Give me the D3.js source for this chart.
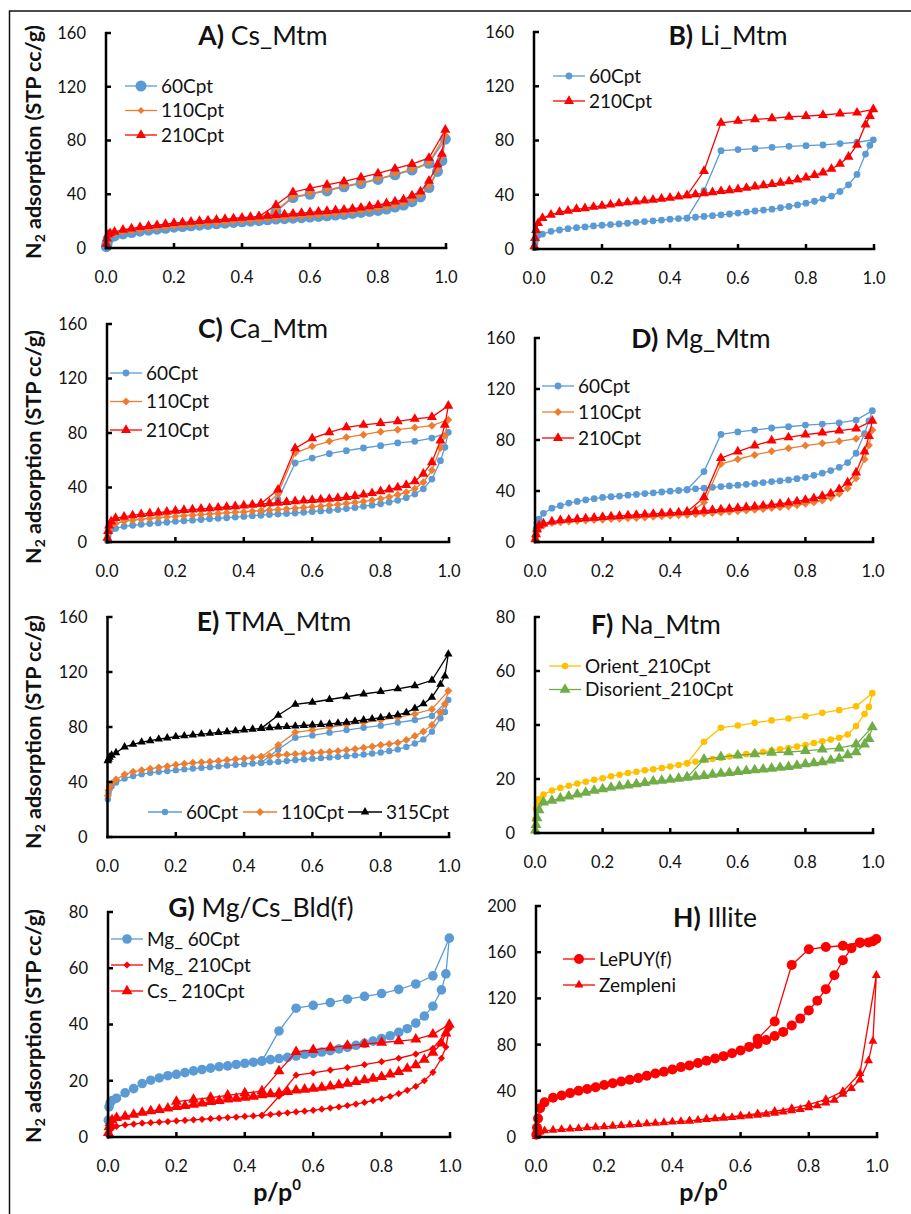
<!DOCTYPE html>
<html><head><meta charset="utf-8">
<script src="https://cdn.jsdelivr.net/npm/d3@7/dist/d3.min.js"></script>
<style>body{margin:0;background:#fff}svg{display:block;font-family:Lato,"Open Sans",sans-serif}</style>
</head><body>
<script>
// ---------- DATA ----------
// relative pressure grid (adsorption branch) and desorption branches
const pAds = [0.001,0.003,0.006,0.012,
  0.025,0.05,0.075,0.1,0.125, 0.15,0.175,0.2,0.225,0.25, 0.275,0.3,0.325,0.35,0.375,
  0.4,0.425,0.45,0.475,0.5, 0.525,0.55,0.575,0.6,0.625, 0.65,0.675,0.7,0.725,0.75,
  0.775,0.8,0.825,0.85,0.875, 0.9,0.925,0.95,0.975, 0.988,0.998];
const pDes = [0.95,0.9,0.85,0.8,0.75,0.7,0.65,0.6,0.55,0.5,0.45];
const pDesG = [0.95,0.9,0.85,0.8,0.75,0.7,0.65,0.6,0.55,0.5,0.45,0.4,0.35,0.3,0.25,0.2];
const pDesH = [0.95,0.9,0.85,0.8,0.75,0.7,0.65];
const xTickVals = [0,0.2,0.4,0.6,0.8,1.0];

// A) Cs_Mtm
const A60ads = [1,3,6,8, 9,10.5,11.5,12.5,13.3, 14,14.7,15.5,16,16.5, 17,17.5,18,18.5,19,
  19.5,20,20.5,21,21.5, 21.8,22.2,22.6,23,23.5, 24,24.5,25,25.7,26.5, 27.2,28,29,30.5,32,
  34.5,38,45,57, 65,81];
const A60des = [63,58,54.5,51,48,45.5,42.5,40,37.5,27,20.5];
const A110ads = [2,5,8,10, 10.5,11.5,12.5,13.3,14, 14.7,15.3,16,16.5,17, 17.5,18,18.5,19,19.5,
  20,20.5,21,21.5,22, 22.4,22.8,23.2,23.7,24.2, 24.7,25.3,25.9,26.6,27.4, 28.2,29,30,31.5,33,
  35.5,39,46,58, 68,84];
const A110des = [63.5,58.5,55,51.5,48.5,46,43,40.5,38,28,21];
const A210ads = [3,7,10,11, 12,13.5,14.5,15.5,16.3, 17,17.8,18.5,19,19.5, 20,20.5,21,21.5,22,
  22.5,23,23.5,24,24.5, 25,25.5,26,26.5,27, 27.5,28,28.5,29.2,30, 31,32,33.2,34.5,36,
  39,42,50,62, 70,88];
const A210des = [67,62.5,59,55.5,52.5,49.5,47,44.5,41.5,32,23.5];

// B) Li_Mtm
const B60ads = [1,4,7,10, 11,13,14,15,15.7, 16.3,17,17.5,18,18.5, 19,19.7,20.2,20.8,21.3,
  22,22.4,22.8,23.4,24, 24.6,25.2,25.8,26.5,27.2, 28,28.7,29.4,30.4,31.4, 32.5,33.8,35.2,37,39,
  42.4,47.3,55,70, 76.5,80.5];
const B60des = [78.7,77.7,76.7,76.2,75.7,75,74,73.3,72.5,43,22.8];
const B210ads = [2,8,14,19, 22.8,25.2,27.2,28.2,29.4, 30,31,31.8,32.7,33.6, 34.3,35,35.6,36.3,37,
  37.7,38.6,39.5,40.2,41, 41.8,42.6,43.3,44,45, 46,46.9,47.8,48.8,49.8, 51.2,52.7,54.5,56.4,59,
  62.7,68,76.7,91.7, 98,103];
const B210des = [100.5,99.8,98.8,98,97.5,96.3,95.6,94.4,93,57.5,39.5];

// C) Ca_Mtm
const C60ads = [1,4,7,9, 10,11.5,12.3,13,13.5, 14,14.5,15.2,15.6,16, 16.5,17,17.4,17.8,18.3,
  18.8,19.3,19.8,20.2,20.5, 20.9,21.3,21.8,22.3,22.8, 23.2,23.8,24.5,25.3,26.2, 27,28,29.2,30.6,32.5,
  35.2,39,46.2,59.7, 69.5,80.5];
const C60des = [76.3,73.9,72.7,70.7,69,67,64.8,61.6,58,31,19.8];
const C110ads = [2,6,9,12, 13.5,15.2,16,16.7,17.3, 17.8,18.3,18.8,19.3,19.7, 20.1,20.5,21,21.4,21.8,
  22.1,22.6,23,23.4,23.8, 24.3,24.8,25.3,25.8,26.3, 26.9,27.5,28.2,29,29.7, 30.7,31.8,33,34.7,36.5,
  39.1,43.8,52.6,69, 78,89.8];
const C110des = [85.4,84,82.4,81,78.8,76.8,73.9,70.2,65.3,35.5,23];
const C210ads = [3,8,12,15, 17.6,18.5,19.5,20.4,21, 21.6,22.2,22.9,23.4,23.8, 24.3,24.7,25.2,25.7,26.2,
  26.7,27.3,28,28.4,28.8, 29.3,29.8,30.3,30.8,31.2, 31.6,32.2,32.9,33.7,34.7, 35.8,37.2,38.5,40,41.8,
  44.5,50,58.5,74.4, 86,100];
const C210des = [91.7,90.3,88.6,87.3,85.9,84.2,80.5,76,68.7,38.4,28];

// D) Mg_Mtm
const D60ads = [4,10,15,18, 22.5,26.5,28.5,30.5,31.8, 33,34,35,35.5,36, 36.7,37.3,38,38.6,39.2,
  39.9,40.4,41,41.7,42.3, 42.9,43.5,44,44.6,45.2, 45.9,46.6,47.4,48,48.7, 49.7,50.8,52.3,54,56,
  58.6,62.3,69.6,85, 95,103];
const D60des = [95.6,93.5,92.5,91.7,90.4,89.4,87.8,86.3,84.4,55.2,41];
const D110ads = [2,5,8,11, 13,14.9,15.5,16,16.5, 16.9,17.2,17.5,18,18.3, 18.6,18.8,19.3,19.8,20.2,
  20.6,21,21.4,21.8,22.3, 22.7,23.2,23.7,24.2,24.7, 25.3,25.9,26.6,27.2,27.9, 28.9,30,31.2,32.6,34.7,
  37.8,42.2,50,64.9, 75.8,87.8];
const D110des = [81,79,77.4,75.6,73.5,71.1,68.3,64.9,61.2,31,21.4];
const D210ads = [2,6,10,13, 14.5,16,17,17.5,18, 18.5,19,19.5,20,20.4, 20.8,21.2,21.6,22,22.4,
  22.8,23.2,23.6,24,24.5, 25,25.5,26,26.6,27.2, 27.8,28.5,29.2,30,30.8, 31.8,33,34.3,36,38,
  41.4,46.6,54.5,70.9, 83,95];
const D210des = [89,87.3,85.7,84.2,82,79.5,75.6,70.9,65.7,35,23.6];

// E) TMA_Mtm
const E60ads = [27.5,32,35,37, 39.6,42.5,44.3,45.7,46.7, 47.4,48,48.6,49.2,49.8, 50.3,50.8,51.4,52,52.5,
  53,53.5,54,54.4,54.7, 55.3,56,56.5,57,57.4, 57.9,58.3,58.8,59.4,60, 60.7,61.5,62.5,63.7,65.5,
  68,71,76.6,86.3, 91,99.7];
const E60des = [88,85.1,83.2,81,79.5,77.8,75.9,73.9,72.2,63.7,54];
const E110ads = [30,34,37,39, 41.8,45.5,47.4,48.6,49.6, 50.6,51.5,52.5,53.2,54, 54.3,54.7,55.3,56,56.5,
  57.1,57.7,58.4,59,59.6, 60,60.3,60.8,61.3,61.6, 62,62.6,63.2,64,64.9, 65.9,66.9,67.7,68.6,70.5,
  73.4,76.8,81.5,90.5, 96.8,106.3];
const E110des = [92.9,89.5,87,85.1,83.2,81.7,79.8,77.8,76.1,66.9,58.4];
const E315ads = [55.5,56.5,58,59.5, 61.3,65.5,67.4,69,70, 71.2,72,73,73.6,74.2, 74.8,75.4,76,76.6,77.2,
  77.8,78.4,79,79.5,80, 80.3,80.7,81.1,81.5,81.8, 82.2,82.8,83.4,84.2,85.1, 85.9,86.8,87.7,88.8,90.5,
  93.6,96.8,101.6,111, 117,133];
const E315des = [114,110,107.7,105.8,104,102,100,98,96.5,88.5,79];

// F) Na_Mtm
const FOriads = [5,9,11,12.6, 14.2,15.7,16.7,17.5,18.3, 19,19.7,20.3,21,21.6, 22.2,22.7,23.2,23.6,24.1,
  24.6,25.2,25.8,26.4,27, 27.4,27.8,28.3,28.8,29.2, 29.5,30,30.5,31,31.5, 32,32.6,33.3,34,34.6,
  35.3,36.5,39.6,44.1, 46.7,51.8];
const FOrides = [46.9,45.5,44.5,43.2,42.4,41.7,40.8,39.8,39,33.8,25.8];
const FDisads = [1,3,5.5,8.5, 11.4,12,12.8,13.6,14.3, 15,15.7,16.3,16.8,17.3, 17.7,18.1,18.6,19.1,19.4,
  19.8,20.2,20.6,20.9,21.2, 21.6,22,22.3,22.7,23, 23.3,23.6,23.9,24.2,24.5, 25,25.5,25.9,26.3,26.9,
  27.6,28.9,30,32.8, 34.9,39.2];
const FDisdes = [32.8,31.4,31,30.4,30,29.8,29.2,28.8,28.2,27.3,20.6];

// G) Mg/Cs_Bld(f)
const GMg60ads = [6,10.7,12.1,13, 13.8,15.7,17.2,19,20.2, 21,21.8,22.3,22.9,23.5, 24,24.5,25,25.3,25.8,
  26.2,26.6,27,27.5,27.9, 28.3,28.8,29.4,29.7,30.2, 30.7,31.3,31.9,32.6,33.3, 34.1,35,36,37.2,38.5,
  40.5,43,46.5,52.3, 58,70.7];
const GMg60des = [57.3,54.4,52.5,51,50,49,47.8,46.8,45.8,37.7,27];
const GMg210ads = [0.5,1.5,2.5,3.2, 3.8,4.3,4.6,4.9,5.1, 5.3,5.5,5.7,5.9,6.1, 6.3,6.5,6.7,6.9,7.1,
  7.3,7.5,7.7,8,8.3, 8.6,8.9,9.2,9.5,9.9, 10.3,10.7,11.2,11.7,12.3, 12.9,13.6,14.4,15.4,16.6,
  18,20,23,28, 32,38.6];
const GMg210des = [31.5,29.5,28,26.8,25.7,24.7,23.8,22.8,22,14.5,7.7];
const GCs210ads = [1.5,3.5,5,6, 6.8,7.3,8,8.7,9.2, 9.7,10.2,10.7,11.1,11.5, 12,12.5,12.9,13.4,13.7,
  14,14.4,14.9,15.3,15.7, 16.1,16.6,16.9,17.2,17.6, 18,18.5,19,19.6,20.2, 20.8,21.4,22.3,23.2,24.3,
  25.6,27.5,30,33.3, 36.9,40];
const GCs210des = [36.5,34.7,34.1,33.6,33,32.5,31.8,31,30.3,23.4,16.3,15.6,14.8,14,13.3,12.6];

// H) Illite
const HPuyads = [2,8,16,25, 30,34,36,38,40, 41.5,43,45,46.5,48, 49.5,51,53,55,56.5,
  58.5,60.5,62,64,66, 68,70,72.5,75,78, 80.5,84,87.5,91,96.5, 102.5,109.5,118,128,140,
  153,163.5,168,168.5, 169.5,171.5];
const HPuydes = [168.5,165.6,164.5,162.5,149,100,85];
const HZemads = [0.5,2,3.5,4.5, 5.5,6,6.5,7,7.5, 8,8.5,9,9.5,10, 10.5,11,11.5,12,12.5,
  13,13.5,14,14.6,15.2, 15.8,16.4,17,17.6,18.3, 19,19.8,20.7,21.7,22.8, 24,25.5,27.2,29.5,32,
  37,42,49.5,66, 83,140];
const HZemdes = [55,39.5,32.5,28,24.7,22.3,20.2,18.5,17,15.6,14];

// ---------- STYLE / LAYOUT ----------
const C = {blue:"#5B9BD5", orange:"#ED7D31", red:"#FF0000", black:"#000000", yellow:"#FFC000", green:"#70AD47"};

const panels = [
 {tag:"A)", name:"Cs_Mtm", x0:106, x1:446, yTop:33, yBot:248, yMax:160, yStep:40, tx:263, ty:45, ylab:142,
  legend:{mode:"v", x:125, y:86, dy:24.5},
  series:[
   {label:"60Cpt", color:C.blue, shape:"circle", sz:5.5, ads:A60ads, des:A60des, px:pDes},
   {label:"110Cpt", color:C.orange, shape:"diamond", sz:3.5, ads:A110ads, des:A110des, px:pDes},
   {label:"210Cpt", color:C.red, shape:"triangle", sz:10, ads:A210ads, des:A210des, px:pDes}]},
 {tag:"B)", name:"Li_Mtm", x0:534, x1:874, yTop:32, yBot:249, yMax:160, yStep:40, tx:728, ty:45,
  legend:{mode:"v", x:553, y:76, dy:25},
  series:[
   {label:"60Cpt", color:C.blue, shape:"circle", sz:3.4, ads:B60ads, des:B60des, px:pDes},
   {label:"210Cpt", color:C.red, shape:"triangle", sz:10, ads:B210ads, des:B210des, px:pDes}]},
 {tag:"C)", name:"Ca_Mtm", x0:107, x1:449, yTop:324, yBot:542, yMax:160, yStep:40, tx:263, ty:338, ylab:447,
  legend:{mode:"v", x:110, y:373, dy:28.5},
  series:[
   {label:"60Cpt", color:C.blue, shape:"circle", sz:3.4, ads:C60ads, des:C60des, px:pDes},
   {label:"110Cpt", color:C.orange, shape:"diamond", sz:4, ads:C110ads, des:C110des, px:pDes},
   {label:"210Cpt", color:C.red, shape:"triangle", sz:10, ads:C210ads, des:C210des, px:pDes}]},
 {tag:"D)", name:"Mg_Mtm", x0:535, x1:873, yTop:338, yBot:542, yMax:160, yStep:40, tx:701, ty:348,
  legend:{mode:"v", x:542, y:386, dy:26},
  series:[
   {label:"60Cpt", color:C.blue, shape:"circle", sz:3.4, ads:D60ads, des:D60des, px:pDes},
   {label:"110Cpt", color:C.orange, shape:"diamond", sz:4, ads:D110ads, des:D110des, px:pDes},
   {label:"210Cpt", color:C.red, shape:"triangle", sz:10, ads:D210ads, des:D210des, px:pDes}]},
 {tag:"E)", name:"TMA_Mtm", x0:107.5, x1:449, yTop:617, yBot:837, yMax:160, yStep:40, tx:274, ty:631, ylab:732,
  legend:{mode:"h", xs:[148,243,348], y:812, len:34},
  series:[
   {label:"60Cpt", color:C.blue, shape:"circle", sz:3.2, ads:E60ads, des:E60des, px:pDes},
   {label:"110Cpt", color:C.orange, shape:"diamond", sz:4, ads:E110ads, des:E110des, px:pDes},
   {label:"315Cpt", color:C.black, shape:"triangle", sz:8.5, ads:E315ads, des:E315des, px:pDes}]},
 {tag:"F)", name:"Na_Mtm", x0:535, x1:873, yTop:617, yBot:833, yMax:80, yStep:20, tx:656, ty:634,
  legend:{mode:"v", x:549, y:666, dy:23.5},
  series:[
   {label:"Orient_210Cpt", color:C.yellow, shape:"circle", sz:3.3, ads:FOriads, des:FOrides, px:pDes},
   {label:"Disorient_210Cpt", color:C.green, shape:"triangle", sz:11, ads:FDisads, des:FDisdes, px:pDes}]},
 {tag:"G)", name:"Mg/Cs_Bld(f)", x0:108, x1:450, yTop:912, yBot:1137, yMax:80, yStep:20, tx:261, ty:917, ylab:1026, xlab:277,
  legend:{mode:"v", x:111, y:939, dy:26},
  series:[
   {label:"Mg_ 60Cpt", color:C.blue, shape:"circle", sz:4.8, ads:GMg60ads, des:GMg60des, px:pDes},
   {label:"Mg_ 210Cpt", color:C.red, shape:"diamond", sz:3.6, ads:GMg210ads, des:GMg210des, px:pDes},
   {label:"Cs_ 210Cpt", color:C.red, shape:"triangle", sz:11, ads:GCs210ads, des:GCs210des, px:pDesG}]},
 {tag:"H)", name:"Illite", x0:536, x1:877, yTop:906, yBot:1137, yMax:200, yStep:40, tx:715, ty:927, xlab:703,
  legend:{mode:"v", x:563, y:959, dy:26},
  series:[
   {label:"LePUY(f)", color:C.red, shape:"circle", sz:5, ads:HPuyads, des:HPuydes, px:pDesH},
   {label:"Zempleni", color:C.red, shape:"triangle", sz:9, ads:HZemads, des:HZemdes, px:pDes}]}
];

// ---------- DRAW ----------
const svg = d3.select("body").append("svg").attr("width",911).attr("height",1214);
svg.append("rect").attr("width",911).attr("height",1214).attr("fill","#fff");
svg.append("path").attr("d","M9.5,1214V11H911").attr("fill","none").attr("stroke","#111").attr("stroke-width",1.5);

function markerPath(shape, s){
  if(shape==="circle") return d3.symbol(d3.symbolCircle, Math.PI*s*s)();
  if(shape==="diamond") return `M0,${-s}L${s},0L0,${s}L${-s},0Z`;
  const h = s*0.866;
  return `M0,${-2*h/3}L${s/2},${h/3}L${-s/2},${h/3}Z`;
}

const FT = 16.5; // tick font size

panels.forEach(P=>{
  const g = svg.append("g");
  const x = d3.scaleLinear().domain([0,1]).range([P.x0,P.x1]);
  const y = d3.scaleLinear().domain([0,P.yMax]).range([P.yBot,P.yTop]);
  const yTickVals = d3.range(0, P.yMax+0.001, P.yStep);

  // series
  P.series.forEach(S=>{
    const pts = S.ads.map((v,i)=>[pAds[i],v]).concat(S.des.map((v,i)=>[S.px[i],v]));
    g.append("path").attr("d", d3.line().x(d=>x(d[0])).y(d=>y(d[1]))(pts))
      .attr("fill","none").attr("stroke",S.color).attr("stroke-width",1.3);
    g.selectAll(null).data(pts).enter().append("path")
      .attr("d", markerPath(S.shape,S.sz))
      .attr("transform",d=>`translate(${x(d[0])},${y(d[1])})`)
      .attr("fill",S.color);
  });

  // axes
  const ax = g.append("g").attr("stroke","#000").attr("stroke-width",2.5).attr("fill","none");
  ax.append("line").attr("x1",x(0)).attr("x2",x(0)).attr("y1",y(P.yMax)-1).attr("y2",y(0)+1.2);
  ax.append("line").attr("x1",x(0)-1.2).attr("x2",x(1)+1.2).attr("y1",y(0)).attr("y2",y(0));
  yTickVals.forEach(v=>{
    ax.append("line").attr("x1",x(0)-1).attr("x2",x(0)+5).attr("y1",y(v)).attr("y2",y(v));
  });
  xTickVals.forEach(v=>{
    if(v>0) ax.append("line").attr("x1",x(v)).attr("x2",x(v)).attr("y1",y(0)+1).attr("y2",y(0)-5);
  });
  // tick labels
  g.selectAll(null).data(yTickVals).enter().append("text")
    .attr("x",x(0)-20).attr("y",v=>y(v)).attr("dy","0.36em").attr("text-anchor","end")
    .attr("font-size",FT).attr("fill","#111").text(v=>v);
  g.selectAll(null).data(xTickVals).enter().append("text")
    .attr("x",v=>x(v)).attr("y",y(0)+35).attr("text-anchor","middle")
    .attr("font-size",FT).attr("fill","#111").text(v=>d3.format(".1f")(v));

  // title
  const t = g.append("text").attr("x",P.tx).attr("y",P.ty).attr("text-anchor","middle")
    .attr("font-size",26.5).attr("fill","#111");
  t.append("tspan").attr("font-weight","bold").text(P.tag);
  t.append("tspan").text(" "+P.name);

  // legend
  const L = P.legend;
  P.series.forEach((S,i)=>{
    let lx, ly, len;
    if(L.mode==="v"){ lx=L.x; ly=L.y+i*L.dy; len=32; }
    else { lx=L.xs[i]; ly=L.y; len=L.len; }
    g.append("line").attr("x1",lx).attr("x2",lx+len).attr("y1",ly).attr("y2",ly)
      .attr("stroke",S.color).attr("stroke-width",1.3);
    g.append("path").attr("d",markerPath(S.shape,S.sz)).attr("transform",`translate(${lx+len/2},${ly})`).attr("fill",S.color);
    g.append("text").attr("x",lx+len+4).attr("y",ly).attr("dy","0.36em")
      .attr("font-size",19).attr("fill","#111").text(S.label);
  });

  // y-axis label
  if(P.ylab){
    const yl = svg.append("text").attr("transform",`translate(41,${P.ylab}) rotate(-90)`)
      .attr("text-anchor","middle").attr("font-size",21.5).attr("font-weight","bold").attr("fill","#111");
    yl.append("tspan").text("N");
    yl.append("tspan").attr("font-size",14).attr("dy",4).text("2");
    yl.append("tspan").attr("dy",-4).text(" adsorption (STP cc/g)");
  }
  // x-axis label
  if(P.xlab){
    const xl = svg.append("text").attr("x",P.xlab).attr("y",1201).attr("text-anchor","middle")
      .attr("font-size",25).attr("font-weight","bold").attr("fill","#111");
    xl.append("tspan").text("p/p");
    xl.append("tspan").attr("font-size",15).attr("dy",-11).text("0");
  }
});
</script>
</body></html>
